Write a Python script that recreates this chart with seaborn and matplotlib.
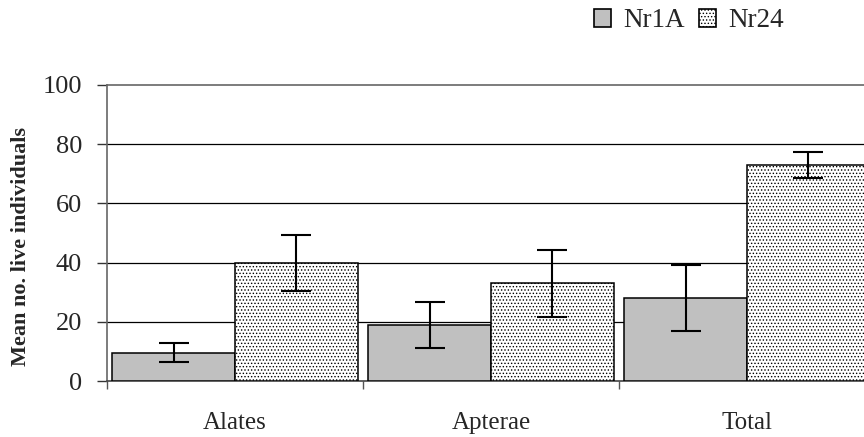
import matplotlib
matplotlib.use("Agg")
import matplotlib.pyplot as plt
import seaborn as sns
import pandas as pd
import numpy as np
from matplotlib.patches import Patch

categories = ["Alates", "Apterae", "Total"]
series = ["Nr1A", "Nr24"]
nr1a_mean = [9.5, 18.9, 28.1]
nr1a_err = [3.2, 7.8, 11.2]
nr24_mean = [39.9, 33.0, 73.0]
nr24_err = [9.5, 11.3, 4.4]
yticks = [0, 20, 40, 60, 80, 100]

sns.set_theme(style="white")
plt.rcParams['font.family'] = ['Liberation Serif', 'DejaVu Serif']
plt.rcParams['hatch.linewidth'] = 0.6
plt.rcParams['hatch.color'] = '#333333'

df = pd.DataFrame({
    "cat": categories * 2,
    "series": [series[0]] * 3 + [series[1]] * 3,
    "mean": nr1a_mean + nr24_mean,
    "err": nr1a_err + nr24_err,
})

fig = plt.figure(figsize=(8.64, 4.37), dpi=100)
ax = fig.add_axes([0.1238, 0.1281, 0.889, 0.6774])

sns.barplot(data=df, x="cat", y="mean", hue="series", order=categories,
            hue_order=series, palette={"Nr1A": "#c0c0c0", "Nr24": "white"},
            width=0.96, errorbar=None, edgecolor="black", linewidth=1.1,
            legend=False, ax=ax, zorder=3)

patches = [p for p in ax.patches]
for i, p in enumerate(patches):
    if i >= 3:
        p.set_hatch('.....')
xs = [p.get_x() + p.get_width() / 2 for p in patches]
ax.errorbar(xs, df["mean"], yerr=df["err"], fmt='none', ecolor='black',
            elinewidth=1.5, capsize=11, capthick=1.5, zorder=5)

ax.set_xlim(-0.5, 2.5)
ax.set_ylim(0, 100)
ax.set_yticks(yticks)
ax.set_yticklabels([str(v) for v in yticks], fontsize=19)
for v in yticks[1:-1]:
    ax.axhline(v, color='black', lw=0.9, zorder=1)
ax.set_xticks(range(3))
ax.set_xticklabels(categories, fontsize=18)
ax.tick_params(axis='x', which='major', length=0, pad=22)
ax.set_xticks([-0.5, 0.5, 1.5, 2.5], minor=True)
ax.tick_params(axis='x', which='minor', length=6, width=1, color='#555555', direction='out', bottom=True)
ax.tick_params(axis='y', length=7, width=1, color='#333333', direction='out', left=True, pad=11)
for s in ['left', 'bottom', 'top']:
    ax.spines[s].set_visible(True)
    ax.spines[s].set_color('#666666')
    ax.spines[s].set_linewidth(1.2)
ax.spines['bottom'].set_color('#444444')
ax.spines['right'].set_visible(False)
ax.set_xlabel("")
ax.set_ylabel("Mean no. live individuals", fontsize=16, fontweight='bold')
ax.yaxis.set_label_coords(-0.099, 0.456)

handles = [Patch(facecolor="#c0c0c0", edgecolor="black", linewidth=1.2),
           Patch(facecolor="white", edgecolor="black", linewidth=1.2, hatch='.....')]
fig.legend(handles, series, loc='center left', bbox_to_anchor=(0.688, 0.952),
           ncol=2, frameon=False, fontsize=19.5, handlelength=0.6, handleheight=0.6,
           handletextpad=0.45, columnspacing=0.55, borderaxespad=0, borderpad=0)

fig.savefig("out.png", dpi=100)
